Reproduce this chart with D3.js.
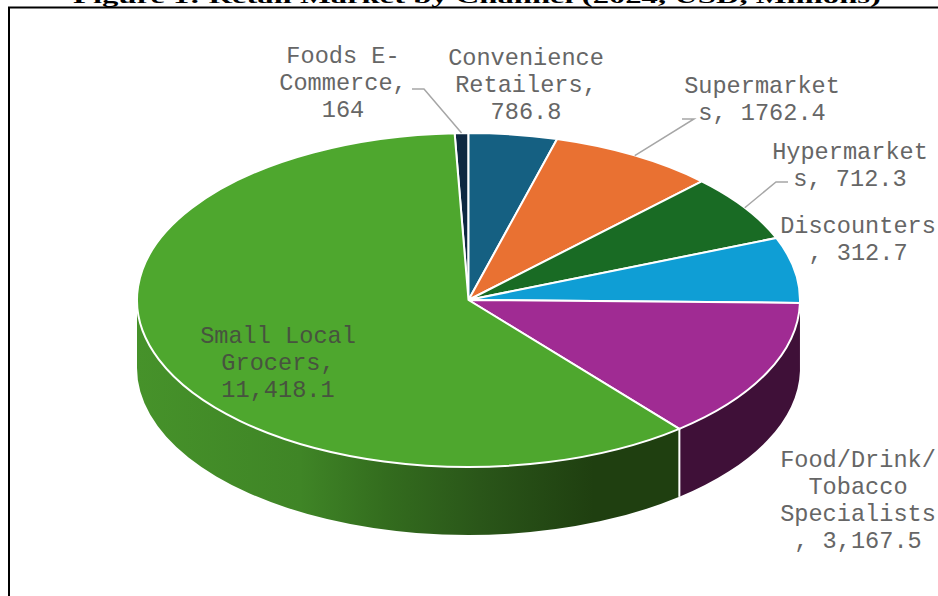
<!DOCTYPE html>
<html>
<head>
<meta charset="utf-8">
<script src="https://cdn.jsdelivr.net/npm/d3@7"></script>
<style>
  html, body { margin: 0; padding: 0; background: #fff; overflow: hidden; }
  svg { display: block; }
</style>
</head>
<body>
<div id="chart"></div>
<script>
// slices, clockwise from the top of the pie
var categories = ['Foods E-Commerce', 'Convenience Retailers', 'Supermarkets', 'Hypermarkets', 'Discounters', 'Food/Drink/Tobacco Specialists', 'Small Local Grocers'];
var valueLabels = ['164', '786.8', '1762.4', '712.3', '312.7', '3,167.5', '11,418.1'];
// the drawn slices do not follow the printed numbers, so the sweep is read off the picture (degrees)
var sliceDegrees = [2.4, 15.5, 29.2, 23.5, 22.8, 49.5, 217.1];
var colors = ['#0e2841', '#156082', '#e97132', '#196b24', '#0f9ed5', '#a02b93', '#4ea72e'];
var titleText = 'Figure 1: Retail Market by Channel (2024, USD, Millions)';

// wrapped the way the picture wraps them
var labelLines = [
  ['Foods E-', 'Commerce,', '164'],
  ['Convenience', 'Retailers,', '786.8'],
  ['Supermarket', 's, 1762.4'],
  ['Hypermarket', 's, 712.3'],
  ['Discounters', ', 312.7'],
  ['Food/Drink/', 'Tobacco', 'Specialists', ', 3,167.5'],
  ['Small Local', 'Grocers,', '11,418.1']
];
var labelPos = [[343, 63], [526, 65], [762, 93], [850, 159], [858, 233], [858, 467], [278, 343]];
// knee of the leader line, only the small slices have one
var leaders = {0: [[412, 89], [424, 89]], 2: [[682, 119], [694, 119]], 3: [[788, 182], [776, 182]]};

var width = 938, height = 596;
var cx = 468.5, cy = 300, rx = 331.5, ry = 167, depth = 68;

var svg = d3.select('#chart').append('svg')
  .attr('width', width)
  .attr('height', height);

// side wall shading runs left to right
var defs = svg.append('defs');
var wallGrad = defs.append('linearGradient')
  .attr('id', 'wallGreen')
  .attr('gradientUnits', 'userSpaceOnUse')
  .attr('x1', cx - rx).attr('x2', cx + rx * 0.64).attr('y1', 0).attr('y2', 0);
var wallStops = [[0, '#46922a'], [30, '#3f8526'], [46, '#336c1e'], [63, '#2a5619'], [84, '#1f3f10'], [100, '#1f3f10']];
wallStops.forEach(function(s) {
  wallGrad.append('stop').attr('offset', s[0] + '%').attr('stop-color', s[1]);
});

// title is cut off by the top of the picture, squashed so the descenders stop at the frame
svg.append('text')
  .attr('transform', 'translate(477,3) scale(1.02,0.6)')
  .attr('text-anchor', 'middle')
  .style('font', 'bold 32px "Liberation Serif", serif')
  .text(titleText);

// frame, no right side in the crop
svg.append('path')
  .attr('d', 'M9,' + height + 'V7.5H' + width)
  .attr('fill', 'none')
  .attr('stroke', '#000')
  .attr('stroke-width', 2);

var pie = d3.pie()
  .value(function(d) { return d; })
  .sort(null)
  .startAngle(-2.4 * Math.PI / 180)
  .endAngle((360 - 2.4) * Math.PI / 180);

var arcs = pie(sliceDegrees);

function ex(a) { return cx + rx * Math.sin(a); }
function ey(a) { return cy - ry * Math.cos(a); }

function wallPath(a0, a1) {
  var top = 'M' + ex(a0) + ',' + ey(a0) +
    'A' + rx + ',' + ry + ' 0 0 1 ' + ex(a1) + ',' + ey(a1);
  var bottom = 'L' + ex(a1) + ',' + (ey(a1) + depth) +
    'A' + rx + ',' + ry + ' 0 0 0 ' + ex(a0) + ',' + (ey(a0) + depth) + 'Z';
  return top + bottom;
}

// walls: only the front half of the rim shows
var frontWalls = [
  {slice: 4, fill: '#3f1038'},
  {slice: 5, fill: '#3f1038'},
  {slice: 6, fill: 'url(#wallGreen)'}
];
svg.append('g').selectAll('path')
  .data(frontWalls)
  .enter().append('path')
  .attr('d', function(d) {
    var s = arcs[d.slice];
    return wallPath(Math.max(s.startAngle, Math.PI / 2), Math.min(s.endAngle, Math.PI * 1.5));
  })
  .attr('fill', function(d) { return d.fill; });

// white seam where the two walls meet
var seam = arcs[6].startAngle;
svg.append('line')
  .attr('x1', ex(seam)).attr('x2', ex(seam))
  .attr('y1', ey(seam)).attr('y2', ey(seam) + depth)
  .attr('stroke', '#fff')
  .attr('stroke-width', 2);

var arc = d3.arc().innerRadius(0).outerRadius(rx);

svg.append('g')
  .attr('transform', 'translate(' + cx + ',' + cy + ') scale(1,' + (ry / rx) + ')')
  .selectAll('path')
  .data(arcs)
  .enter().append('path')
  .attr('d', arc)
  .attr('fill', function(d, i) { return colors[i]; })
  .attr('stroke', '#fff')
  .attr('stroke-width', 2)
  .attr('vector-effect', 'non-scaling-stroke')
  .attr('stroke-linejoin', 'round');

// leader lines go from the knee to the middle of the slice rim
Object.keys(leaders).forEach(function(k) {
  var s = arcs[k], mid = (s.startAngle + s.endAngle) / 2;
  svg.append('path')
    .attr('d', d3.line()(leaders[k].concat([[ex(mid), ey(mid)]])))
    .attr('fill', 'none')
    .attr('stroke', '#a6a6a6')
    .attr('stroke-width', 1.5);
});

var lineH = 27;
var labels = svg.append('g').selectAll('text')
  .data(labelLines)
  .enter().append('text')
  .attr('text-anchor', 'middle')
  .attr('fill', function(d, i) { return i === 6 ? '#47533f' : '#666'; })
  .style('font', '23.6px "Liberation Mono", "Courier New", monospace');

labels.each(function(lines, i) {
  var t = d3.select(this);
  lines.forEach(function(l, j) {
    t.append('tspan')
      .attr('x', labelPos[i][0])
      .attr('y', labelPos[i][1] + j * lineH)
      .text(l);
  });
});
</script>
</body>
</html>
